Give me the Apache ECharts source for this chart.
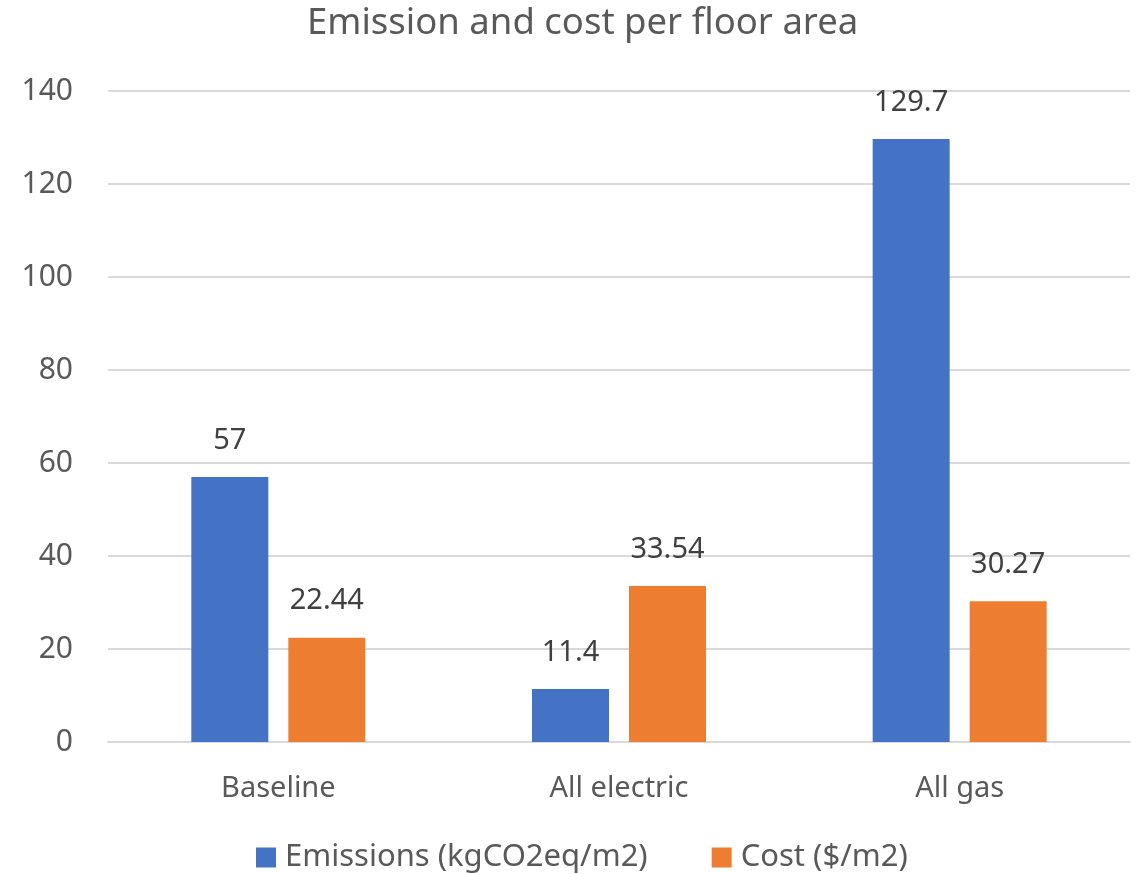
<!DOCTYPE html>
<html>
<head>
<meta charset="utf-8">
<script src="https://cdn.jsdelivr.net/npm/echarts@6/dist/echarts.min.js"></script>
<style>
  html, body { margin: 0; padding: 0; background: #fff; }
  #chart { width: 1143px; height: 874px; }
</style>
</head>
<body>
<div id="chart"></div>
<script>
// Scenario categories and the two measured series
const categories = ['Baseline', 'All electric', 'All gas'];
const emissions = [57, 11.4, 129.7];      // kgCO2eq/m2
const cost = [22.44, 33.54, 30.27];       // $/m2
const yTicks = { min: 0, max: 140, interval: 20 };

const FONT = '"Noto Sans", "Open Sans", sans-serif';

const chart = echarts.init(document.getElementById('chart'), null, { renderer: 'canvas' });

const labelStyle = {
  show: true,
  position: 'top',
  distance: 22,
  color: '#404040',
  fontSize: 29,
  fontFamily: FONT
};

chart.setOption({
  animation: false,
  backgroundColor: '#ffffff',
  title: {
    text: 'Emission and cost per floor area',
    left: 307,
    top: 5,
    padding: 0,
    textStyle: { color: '#595959', fontSize: 36.5, fontWeight: 'normal', fontFamily: FONT }
  },
  legend: {
    bottom: -4,
    left: 251,
    itemWidth: 20,
    itemHeight: 20,
    itemGap: 64,
    icon: 'rect',
    textStyle: { color: '#595959', fontSize: 31, fontFamily: FONT, padding: [0, 0, 0, 4] },
    data: ['Emissions (kgCO2eq/m2)', 'Cost ($/m2)']
  },
  grid: { left: 108, right: 13, top: 91, bottom: 132 },
  xAxis: {
    type: 'category',
    data: categories,
    axisLine: { show: true, lineStyle: { color: '#d9d9d9', width: 2 } },
    axisTick: { show: false },
    axisLabel: { color: '#595959', fontSize: 29, fontFamily: FONT, margin: 32 }
  },
  yAxis: {
    type: 'value',
    min: yTicks.min,
    max: yTicks.max,
    interval: yTicks.interval,
    axisLine: { show: false },
    axisTick: { show: false },
    splitLine: { lineStyle: { color: '#d9d9d9', width: 2 } },
    axisLabel: { color: '#595959', fontSize: 30, fontFamily: FONT, margin: 35 }
  },
  series: [
    {
      name: 'Emissions (kgCO2eq/m2)',
      type: 'bar',
      data: emissions,
      barWidth: 77,
      barGap: '26%',
      itemStyle: { color: '#4472C4' },
      label: labelStyle
    },
    {
      name: 'Cost ($/m2)',
      type: 'bar',
      data: cost,
      barWidth: 77,
      itemStyle: { color: '#ED7D31' },
      label: labelStyle
    }
  ]
});
</script>
</body>
</html>
